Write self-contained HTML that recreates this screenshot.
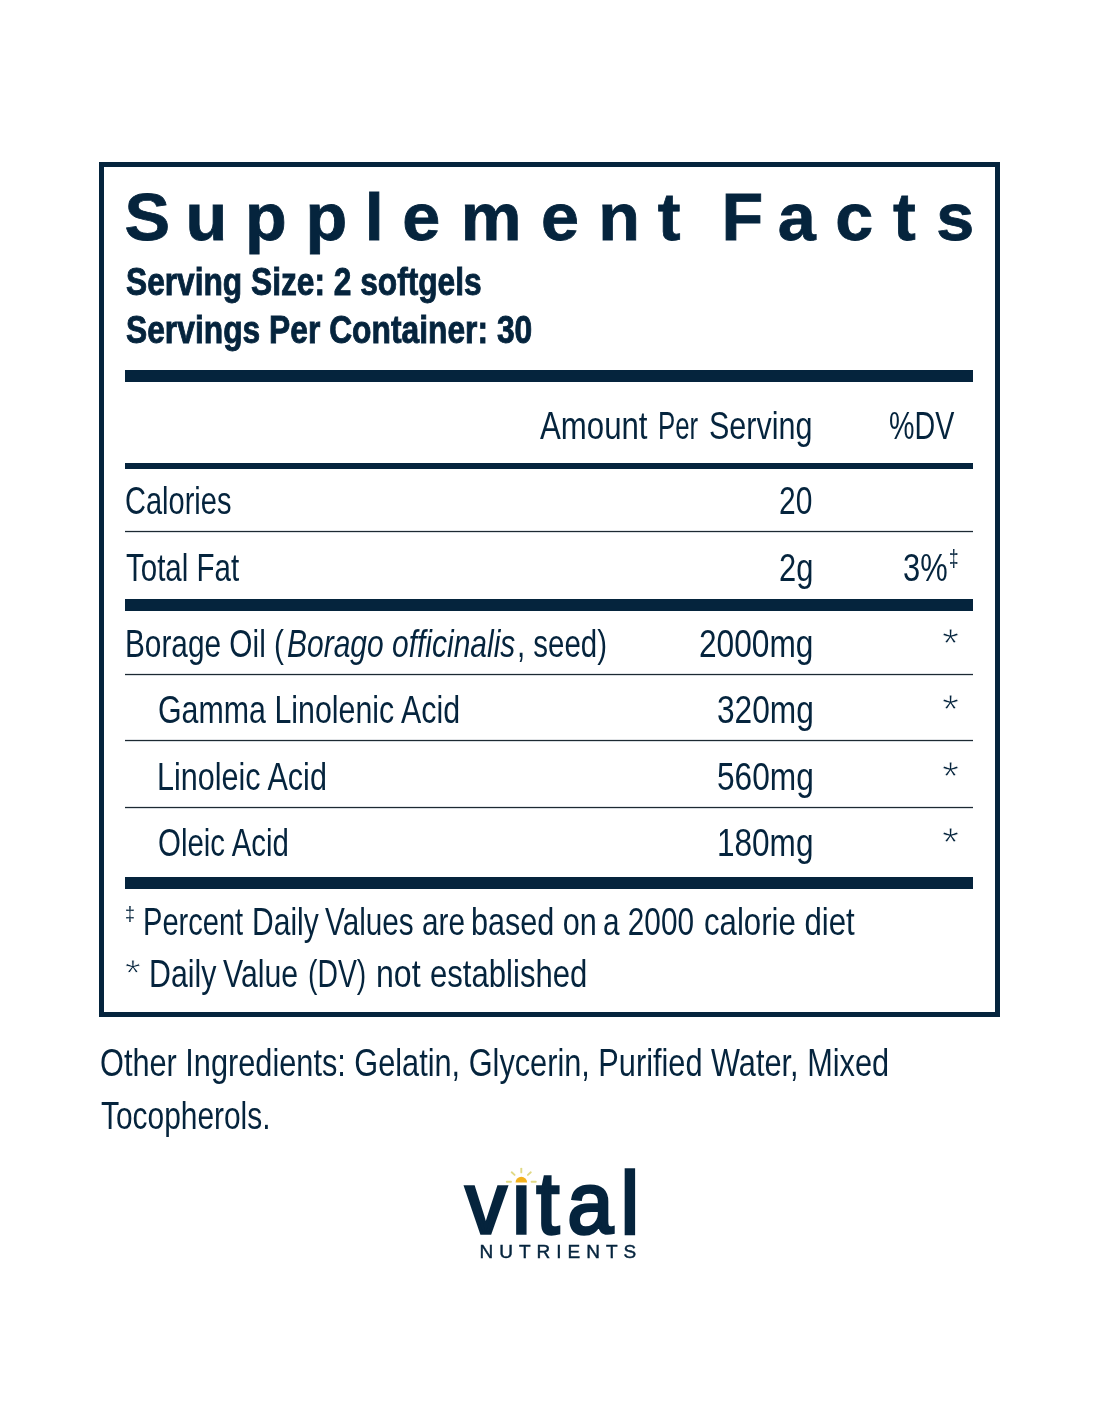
<!DOCTYPE html>
<html lang="en"><head><meta charset="utf-8"><title>Supplement Facts</title>
<style>
html,body{margin:0;padding:0;background:#fff}
body{width:1100px;height:1422px;position:relative;overflow:hidden;font-family:"Liberation Sans",Arial,sans-serif;color:#05243d}
.box{position:absolute;left:99px;top:162px;width:901px;height:855px;box-sizing:border-box;border:5px solid #05243d}
.r{position:absolute;background:#05243d}
.n{height:1px;background:#1d2932;box-shadow:0 1px 0 rgba(5,36,61,.16),0 -1px 0 rgba(5,36,61,.12)}
.t{position:absolute;white-space:nowrap;line-height:1;transform-origin:0 0;font-kerning:normal;font-style:normal;vertical-align:baseline}
em.t{font-style:italic}
.hs{position:absolute;left:0;top:0}
.lg{font-family:"Liberation Sans",Arial,sans-serif;font-weight:400;fill:#05243d;stroke:#05243d;stroke-linejoin:miter}
.h{font-family:"Liberation Sans",Arial,sans-serif;font-weight:700;font-size:67px;fill:#05243d;stroke:#05243d;stroke-width:0.8px}
</style></head><body>
<div class="box"></div>
<svg class="hs" width="1100" height="300" viewBox="0 0 1100 300" role="img" aria-label="Supplement Facts"><text class="h" transform="scale(1.02,1)" x="122.13 181.78 240.30 299.42 357.73 394.39 451.83 530.47 586.42 644.89 676.18 707.46 762.50 818.90 875.48 917.95" y="240.2">Supplement Facts</text></svg>
<div class="r" style="left:125.3px;top:370px;width:847.7px;height:12px"></div>
<div class="r" style="left:125.3px;top:463px;width:847.7px;height:6px"></div>
<div class="r n" style="left:125.3px;top:531px;width:847.7px"></div>
<div class="r" style="left:125.3px;top:599px;width:847.7px;height:12px"></div>
<div class="r n" style="left:125.3px;top:674px;width:847.7px"></div>
<div class="r n" style="left:125.3px;top:740px;width:847.7px"></div>
<div class="r n" style="left:125.3px;top:807px;width:847.7px"></div>
<div class="r" style="left:125.3px;top:877px;width:847.7px;height:11.5px"></div>
<div class="serving"><span class="t" style="left:126.28px;top:263px;font-size:38.5px;font-weight:700;transform:scaleX(0.8229);-webkit-text-stroke:0.9px #05243d">Serving Size: 2 softgels</span></div>
<div class="serving"><span class="t" style="left:126.27px;top:311px;font-size:38.5px;font-weight:700;transform:scaleX(0.8255);-webkit-text-stroke:0.9px #05243d">Servings Per Container: 30</span></div>
<div class="row head"><span class="t" style="left:540.4px;top:406px;font-size:39.5px;transform:scaleX(0.7896)">Amount</span> <span class="t" style="left:657.98px;top:406px;font-size:39.5px;transform:scaleX(0.653)">Per</span> <span class="t" style="left:709.05px;top:406px;font-size:39.5px;transform:scaleX(0.7725)">Serving</span> <span class="t" style="left:889.4px;top:406px;font-size:39.5px;transform:scaleX(0.7251)">%DV</span></div>
<div class="row"><span class="t" style="left:125.34px;top:481px;font-size:39.5px;transform:scaleX(0.7348)">Calories</span> <span class="t" style="left:778.89px;top:481px;font-size:39.5px;transform:scaleX(0.7591)">20</span></div>
<div class="row"><span class="t" style="left:126.24px;top:548px;font-size:39.5px;transform:scaleX(0.747)">Total Fat</span> <span class="t" style="left:778.85px;top:548px;font-size:39.5px;transform:scaleX(0.7826)">2g</span> <span class="t" style="left:903.34px;top:548px;font-size:39.5px;transform:scaleX(0.7809)">3%</span> <sup class="t" style="left:948.93px;top:548px;font-size:23.3px;transform:scaleX(0.7357)">‡</sup></div>
<div class="row"><span class="t" style="left:124.67px;top:624px;font-size:39.5px;transform:scaleX(0.7543)">Borage Oil (</span> <em class="t" style="left:286.73px;top:624px;font-size:39.5px;font-style:italic;transform:scaleX(0.7591)">Borago officinalis</em> <span class="t" style="left:516.7px;top:624px;font-size:39.5px;transform:scaleX(0.7455)">, seed)</span> <span class="t" style="left:699.02px;top:624px;font-size:39.5px;transform:scaleX(0.8019)">2000mg</span> <span class="t" style="left:941.54px;top:623px;font-size:41.4px;transform:scaleX(1.0588);-webkit-text-stroke:0.9px #fff">*</span></div>
<div class="row sub"><span class="t" style="left:157.58px;top:690px;font-size:39.5px;transform:scaleX(0.7686)">Gamma Linolenic Acid</span> <span class="t" style="left:716.61px;top:690px;font-size:39.5px;transform:scaleX(0.8021)">320mg</span> <span class="t" style="left:941.54px;top:689px;font-size:41.4px;transform:scaleX(1.0588);-webkit-text-stroke:0.9px #fff">*</span></div>
<div class="row sub"><span class="t" style="left:157.11px;top:757px;font-size:39.5px;transform:scaleX(0.7738)">Linoleic Acid</span> <span class="t" style="left:716.61px;top:757px;font-size:39.5px;transform:scaleX(0.8021)">560mg</span> <span class="t" style="left:941.54px;top:756px;font-size:41.4px;transform:scaleX(1.0588);-webkit-text-stroke:0.9px #fff">*</span></div>
<div class="row sub"><span class="t" style="left:157.62px;top:823px;font-size:39.5px;transform:scaleX(0.7454)">Oleic Acid</span> <span class="t" style="left:717.03px;top:823px;font-size:39.5px;transform:scaleX(0.7985)">180mg</span> <span class="t" style="left:941.54px;top:822px;font-size:41.4px;transform:scaleX(1.0588);-webkit-text-stroke:0.9px #fff">*</span></div>
<div class="note"><sup class="t" style="left:125.29px;top:903px;font-size:21.0px;transform:scaleX(0.849)">‡</sup> <span class="t" style="left:142.73px;top:902px;font-size:39.5px;transform:scaleX(0.7359)">Percent</span> <span class="t" style="left:252.05px;top:902px;font-size:39.5px;transform:scaleX(0.7602)">Daily</span> <span class="t" style="left:324.7px;top:902px;font-size:39.5px;transform:scaleX(0.7531)">Values are</span> <span class="t" style="left:470.89px;top:902px;font-size:39.5px;transform:scaleX(0.7742)">based on</span> <span class="t" style="left:603.27px;top:902px;font-size:39.5px;transform:scaleX(0.753)">a 2000</span> <span class="t" style="left:704.03px;top:902px;font-size:39.5px;transform:scaleX(0.7888)">calorie diet</span></div>
<div class="note"><span class="t" style="left:125.28px;top:955px;font-size:37.8px;transform:scaleX(1.0722);-webkit-text-stroke:0.9px #fff">*</span> <span class="t" style="left:149.33px;top:954px;font-size:39.5px;transform:scaleX(0.7673)">Daily</span> <span class="t" style="left:222.7px;top:954px;font-size:39.5px;transform:scaleX(0.7659)">Value</span> <span class="t" style="left:307.77px;top:954px;font-size:39.5px;transform:scaleX(0.7168)">(DV)</span> <span class="t" style="left:376.2px;top:954px;font-size:39.5px;transform:scaleX(0.8121)">not</span> <span class="t" style="left:429.93px;top:954px;font-size:39.5px;transform:scaleX(0.7872)">established</span></div>
<div class="other"><span class="t" style="left:99.86px;top:1043px;font-size:39.5px;transform:scaleX(0.7774)">Other Ingredients: Gelatin, Glycerin, Purified Water, Mixed</span> <span class="t" style="left:100.53px;top:1096px;font-size:39.5px;transform:scaleX(0.7567)">Tocopherols.</span></div>
<svg style="position:absolute;left:440px;top:1150px" width="220" height="100" viewBox="440 1150 220 100" role="img" aria-label="vital nutrients logo">
<text class="lg" transform="scale(0.95,1)" x="490.14 539.23 564.64 597.51 653.34" y="1233" font-size="86.4" stroke-width="3.4">vital</text>
<rect x="512" y="1158" width="18.5" height="26.4" fill="#fff"/>
<path d="M515.5 1182.4 A5.8 5.6 0 0 1 527.1 1182.4 Z" fill="#f3b21e"/>
<g stroke="#e0d985" stroke-width="1.9" stroke-linecap="round" fill="none">
<path d="M521.3 1168.6V1172.4"/><path d="M511.7 1172.3L514.6 1174.9"/><path d="M530.8 1172.3L527.9 1174.9"/>
<path d="M506.8 1181.7H511"/><path d="M531.6 1181.7H535.8"/></g></svg>
<div class="t" id="nutr" style="left:479.5px;top:1241.92px;font-size:19px;font-weight:400;letter-spacing:6.0px;-webkit-text-stroke:0.45px #05243d">NUTRIENTS</div>
</body></html>
